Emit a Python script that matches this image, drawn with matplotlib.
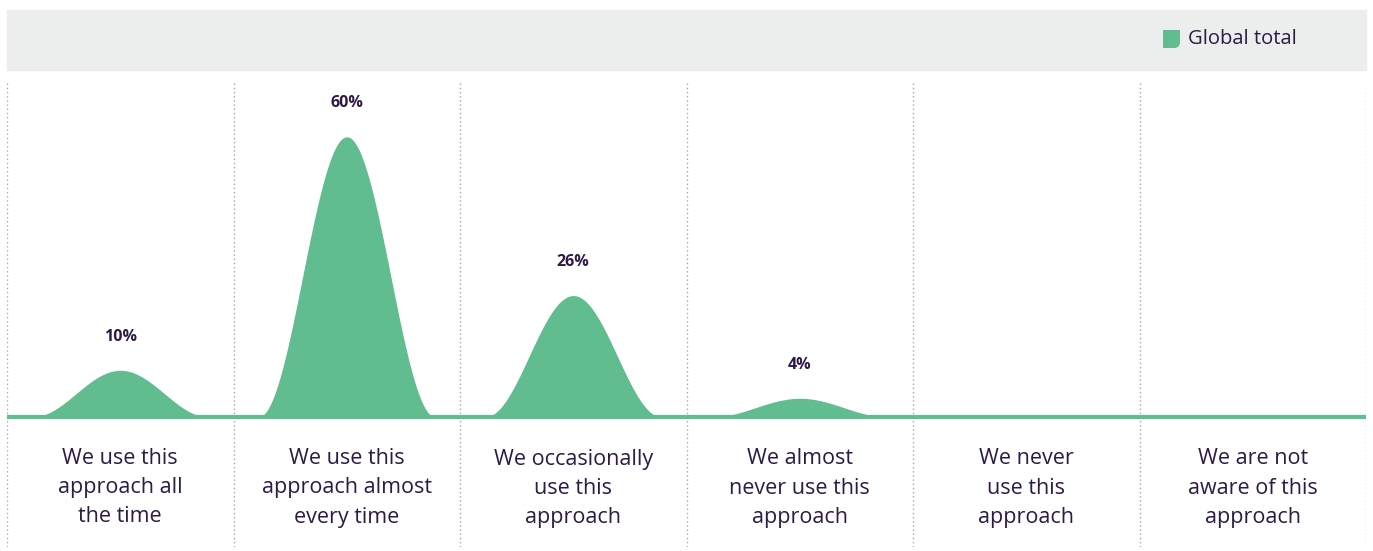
import numpy as np
import matplotlib.pyplot as plt
from matplotlib.patches import Rectangle
from matplotlib.path import Path
from matplotlib.patches import PathPatch

# data
categories = ["We use this\napproach all\nthe time",
              "We use this\napproach almost\nevery time",
              "We occasionally\nuse this\napproach",
              "We almost\nnever use this\napproach",
              "We never\nuse this\napproach",
              "We are not\naware of this\napproach"]
values = [10, 60, 26, 4, 0, 0]
labels = ["10%", "60%", "26%", "4%", "", ""]

green = "#61bc8f"
purple = "#2d1a45"
W, H = 1373, 551

fig = plt.figure(figsize=(W / 100, H / 100), dpi=100)
plt.rcParams['font.family'] = ['Open Sans', 'DejaVu Sans']

# header band with legend
fig.patches.append(Rectangle((7 / W, 1 - 70 / H), (1366 - 7) / W, 60 / H,
                             transform=fig.transFigure, color="#eceded", zorder=0))
# legend marker: square with rounded lower-right corner
x0, y0, s, r = 1163 / W, 1 - 48 / H, 17 / W, 6 / W
sy, ry = 18 / H, 6 / H
verts = [(x0, y0), (x0 + s - r, y0), (x0 + s, y0), (x0 + s, y0 + ry),
         (x0 + s, y0 + sy), (x0, y0 + sy), (x0, y0)]
codes = [Path.MOVETO, Path.LINETO, Path.CURVE3, Path.CURVE3,
         Path.LINETO, Path.LINETO, Path.CLOSEPOLY]
fig.patches.append(PathPatch(Path(verts, codes), transform=fig.transFigure,
                             color=green, lw=0, zorder=1))
fig.text(1188 / W, 1 - 39 / H, "Global total", fontsize=14.5, color=purple,
         va="center", ha="left")

# main axes
px_per = 4.67
top_px, bot_px, base_px = 82, 547, 417
ax = fig.add_axes([7 / W, (H - bot_px) / H, (1366 - 7) / W, (bot_px - top_px) / H])
ax.set_xlim(0, len(categories))
ax.set_ylim(-(bot_px - base_px) / px_per, (base_px - top_px) / px_per)
ax.axis("off")

half = 0.39
for i, v in enumerate(values):
    c = i + 0.5
    t = np.linspace(-1, 1, 200)
    xs = c + t * half
    ys = v * (1 + np.cos(np.pi * t)) / 2
    if v > 0:
        ax.fill_between(xs, 0, ys, color=green, lw=0, zorder=2)
    if labels[i]:
        ax.annotate(labels[i], (c, v), xytext=(0, 24), textcoords="offset points",
                    ha="center", va="center", fontsize=11.5, fontweight="bold",
                    color=purple)
    ax.text(c, -(488 - base_px) / px_per, categories[i], ha="center", va="center",
            fontsize=15.5, color=purple, linespacing=1.5)

for b in range(len(categories) + 1):
    ax.axvline(b, color="#a89fbd", lw=1, ls=(0, (1, 2)), zorder=1)

ax.axhline(0, color=green, lw=3, zorder=3)

fig.savefig("out.png", dpi=100)
